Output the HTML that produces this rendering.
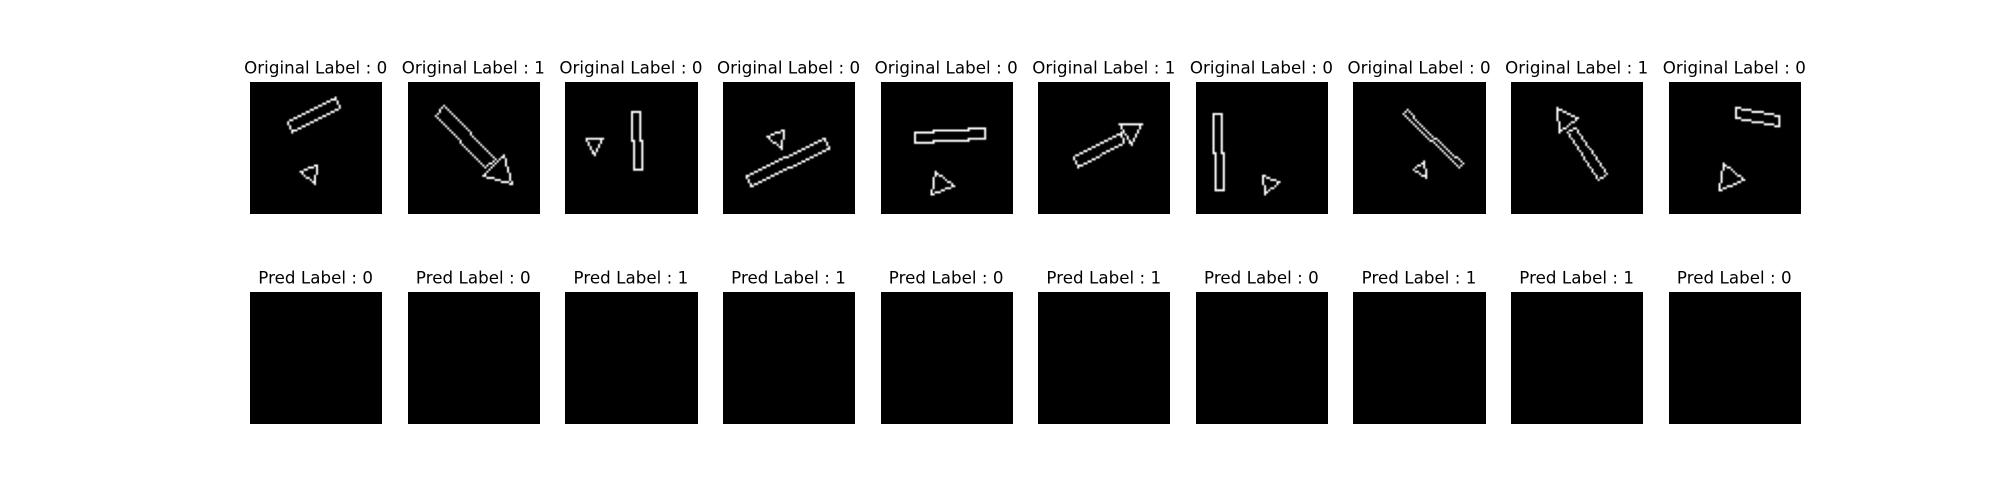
<!DOCTYPE html>
<html lang="en">
<head>
<meta charset="utf-8">
<title>Original and predicted labels</title>
<style>
html,body{margin:0;padding:0;background:#fff;width:2000px;height:500px;overflow:hidden}
svg{display:block}
text{font-family:"DejaVu Sans","Liberation Sans",sans-serif;font-size:16.667px;letter-spacing:0.05px;fill:#000;text-anchor:middle}
</style>
</head>
<body>
<svg id="figure" xmlns="http://www.w3.org/2000/svg" width="2000" height="500" viewBox="0 0 2000 500">
<defs>
<filter id="soften" filterUnits="userSpaceOnUse" x="0" y="0" width="2000" height="500" color-interpolation-filters="sRGB">
<feGaussianBlur stdDeviation="0.42"/>
</filter>
</defs>
<rect width="2000" height="500" fill="#ffffff"/>
</svg>
<script>
const originalLabels = [0, 1, 0, 0, 0, 1, 0, 0, 1, 0];
const predLabels = [0, 0, 1, 1, 0, 1, 0, 1, 1, 0];
const originalPrefix = "Original Label : ";
const predPrefix = "Pred Label : ";

// Outline vertices in source-image pixel units (0..64), one entry per sample
const bodyOutlines = [
  [[41.7,7.9],[43.6,12.3],[20.2,24.1],[18.1,19.7]],
  [[17.1,11.6],[42.7,37],[37.7,41.4],[13.3,16]],
  [[32.2,14.7],[36.7,14.7],[36.7,28.1],[37.8,28.4],[37.8,42.2],[33.1,42.2],[33.1,28.4],[32.2,28.1]],
  [[49.5,27.6],[51.6,32],[13.3,50.1],[11.3,45.9]],
  [[16.2,24.9],[25,24.9],[25,23.6],[42,23.6],[42,22.6],[50.9,22.6],[50.9,27.2],[42,27.2],[42,28.1],[25,28.1],[25,29.1],[16.2,29.1]],
  [[40.1,24.9],[41.9,29.1],[19.4,41],[17.3,36.5]],
  [[8.2,15.7],[12.8,15.7],[12.8,34.3],[13.7,34.6],[13.7,52.4],[9,52.4],[9,34.6],[8.2,34.3]],
  [[26.2,13.7],[32.8,20],[46.7,33],[53.7,39.1],[51.6,41.2],[44.6,34.6],[31.2,22],[24.2,15.8]],
  [[31.4,22],[46.5,44.9],[42.7,47.2],[27.6,24]],
  [[32.3,12.8],[53.8,16.8],[53.8,21.3],[32.3,17.3]]
];
const triangleOutlines = [
  [[32.8,40.7],[31.8,49.1],[24.2,43.8]],
  [[46.5,35.9],[50.7,49.9],[36.2,45.9]],
  [[10.2,27.6],[18.7,27.6],[14.4,35.2]],
  [[29.7,23.6],[28.4,32],[21.3,26.8]],
  [[26.7,43],[35.7,50.9],[24.2,54]],
  [[39.1,20.7],[50.7,20.7],[45.6,30.2]],
  [[32.3,45.6],[40.7,48.8],[33.3,54.3]],
  [[34.6,38.8],[35.9,46.2],[29.2,42.7]],
  [[22.3,12.6],[32.8,17.9],[23.4,24.1]],
  [[26.7,39.9],[36.8,47.8],[24.4,52.4]]
];

const NS = "http://www.w3.org/2000/svg";
const figure = document.getElementById("figure");
const gridSize = 64;
const figLeft = 250, figRight = 1800, wspace = 0.2;
const axesSize = (figRight - figLeft) / (originalLabels.length + wspace * (originalLabels.length - 1));
const imageSize = 132;
const rowCenters = [147.5, 357.5];

function axesLeft(i) { return figLeft + i * axesSize * (1 + wspace); }
function panelLeft(i) { return Math.round(axesLeft(i)); }
function panelWidth(i) { return Math.ceil(axesLeft(i) + axesSize + 0.45) - panelLeft(i); }
function panelTop(row) { return Math.round(rowCenters[row] - axesSize / 2); }
function imgScale(v) { return v * imageSize / gridSize; }

function pixelPath(points, col) {
  const top = panelTop(0), left = panelLeft(col), s = imgScale(1);
  const seen = new Set();
  let d = "";
  function plot(px, py) {
    const key = px + "," + py;
    if (seen.has(key)) return;
    seen.add(key);
    d += "M" + (left + px * s).toFixed(2) + " " + (top + py * s).toFixed(2) +
         "h" + s.toFixed(3) + "v" + s.toFixed(3) + "h" + (-s).toFixed(3) + "z";
  }
  for (let k = 0; k < points.length; k++) {
    const a = points[k], b = points[(k + 1) % points.length];
    let x0 = Math.floor(a[0]), y0 = Math.floor(a[1]);
    const x1 = Math.floor(b[0]), y1 = Math.floor(b[1]);
    const dx = Math.abs(x1 - x0), dy = -Math.abs(y1 - y0);
    const sx = x0 < x1 ? 1 : -1, sy = y0 < y1 ? 1 : -1;
    let err = dx + dy;
    while (true) {
      plot(x0, y0);
      if (x0 === x1 && y0 === y1) break;
      const e2 = 2 * err;
      if (e2 >= dy) { err += dy; x0 += sx; }
      if (e2 <= dx) { err += dx; y0 += sy; }
    }
  }
  return d;
}

function drawPanel(col, row, titleText, withShapes) {
  const g = document.createElementNS(NS, "g");
  
  

  const title = document.createElementNS(NS, "text");
  
  
  title.setAttribute("x", (axesLeft(col) + axesSize / 2).toFixed(2));
  title.setAttribute("y", (panelTop(row) - 8.33).toFixed(2));
  title.textContent = titleText;
  g.appendChild(title);

  const img = document.createElementNS(NS, "rect");
  
  
  img.setAttribute("x", panelLeft(col));
  img.setAttribute("y", panelTop(row));
  img.setAttribute("width", panelWidth(col));
  img.setAttribute("height", imageSize);
  img.setAttribute("fill", "#000000");
  g.appendChild(img);

  if (withShapes) {
    const body = document.createElementNS(NS, "path");
    
    
    body.setAttribute("d", pixelPath(bodyOutlines[col], col));
    body.setAttribute("fill", "#ffffff");
    body.setAttribute("filter", "url(#soften)");
    g.appendChild(body);

    const tri = document.createElementNS(NS, "path");
    
    
    tri.setAttribute("d", pixelPath(triangleOutlines[col], col));
    tri.setAttribute("fill", "#ffffff");
    tri.setAttribute("filter", "url(#soften)");
    g.appendChild(tri);
  }
  figure.appendChild(g);
}

originalLabels.forEach(function (v, i) { drawPanel(i, 0, originalPrefix + v, true); });
predLabels.forEach(function (v, i) { drawPanel(i, 1, predPrefix + v, false); });
</script>
</body>
</html>
